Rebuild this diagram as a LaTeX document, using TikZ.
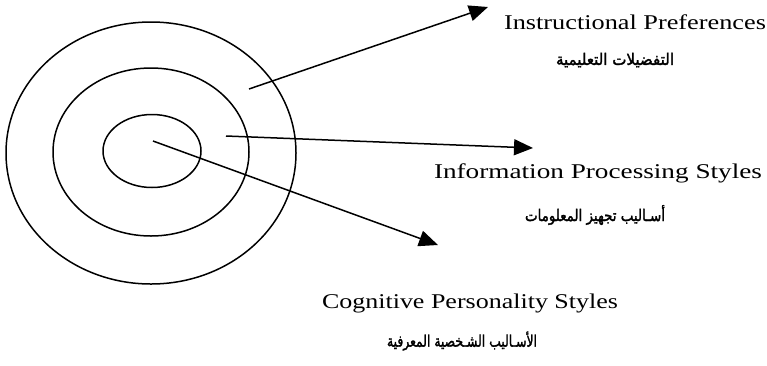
\documentclass[tikz,border=0pt]{standalone}
\usepackage{fontspec}
\usepackage{graphicx}
\setmainfont{Liberation Serif}
\newfontfamily\arabicfont[Script=Arabic,FakeBold=2]{DejaVu Sans}
\TeXXeTstate=1
\usetikzlibrary{arrows.meta,shapes.geometric}
\newcommand{\entext}[2]{\resizebox{#1}{\height}{\fontsize{21}{24}\selectfont #2}}
\newcommand{\arsize}{\fontsize{16}{18}\selectfont\arabicfont}
\begin{document}
\begin{tikzpicture}[x=1pt,y=-1pt,
  ring/.style={draw, ellipse, line width=1.5pt, inner sep=0pt},
  pointer/.style={line width=1.5pt, -{Triangle[length=19pt,width=16pt]}},
  lbl/.style={inner sep=0pt, anchor=center}]
\useasboundingbox[fill=white] (0,0) rectangle (767,365);
% rings
\node[ring, minimum width=290pt, minimum height=262pt] (outer) at (151,153) {};
\node[ring, minimum width=196pt, minimum height=168pt] (middle) at (151,152) {};
\node[ring, minimum width=98pt, minimum height=73pt] (inner) at (152,151) {};
% arrow end points
\coordinate (s1) at (249,89);
\coordinate (t1) at (488,7);
\coordinate (s2) at (226,136);
\coordinate (t2) at (533,148);
\coordinate (s3) at (153,141);
\coordinate (t3) at (438,245);
\draw[pointer] (s1) -- (t1);
\draw[pointer] (s2) -- (t2);
\draw[pointer] (s3) -- (t3);
% labels
\node[lbl] (en1) at (635,22) {\entext{262pt}{Instructional Preferences}};
\node[lbl] (ar1) at (615,60) {\resizebox{118pt}{\height}{\arsize\beginR التفضيلات التعليمية\endR}};
\node[lbl] (en2) at (598,173) {\entext{328pt}{Information Processing Styles}};
\node[lbl] (ar2) at (595,215) {\resizebox{140pt}{\height}{\arsize\beginR أسـاليب تجهيز المعلومات\endR}};
\node[lbl] (en3) at (470,303) {\entext{296pt}{Cognitive Personality Styles}};
\node[lbl] (ar3) at (462,341) {\resizebox{150pt}{\height}{\arsize\beginR الأسـاليب الشـخصية المعرفية\endR}};
\end{tikzpicture}
\end{document}
